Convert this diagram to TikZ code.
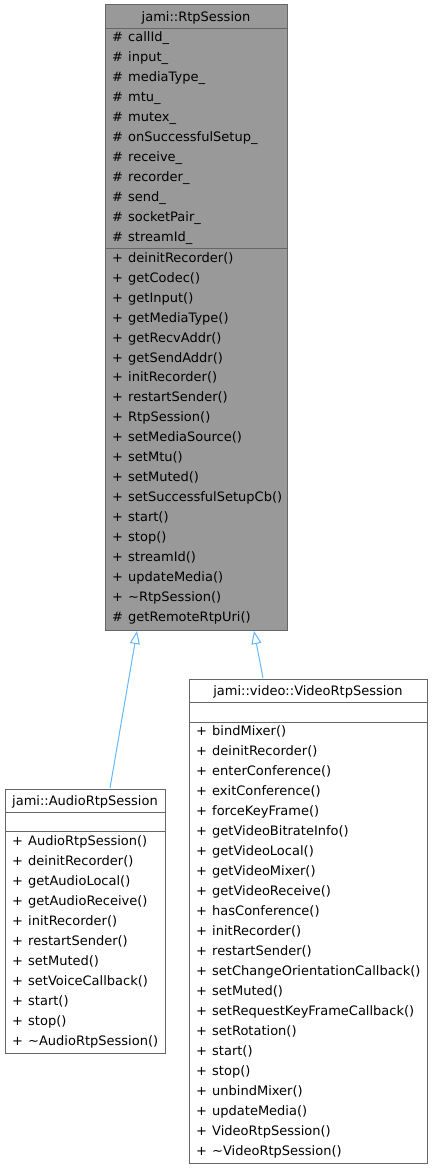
\documentclass[tikz,border=0pt]{standalone}
\usepackage{fontspec}
\setmainfont{DejaVu Sans}
\usetikzlibrary{arrows.meta}
\definecolor{boxborder}{HTML}{666666}
\definecolor{boxgray}{HTML}{999999}
\definecolor{inhblue}{HTML}{63B8FF}
\begin{document}
\begin{tikzpicture}[x=1pt,y=-1pt,
  font=\fontsize{13}{15}\selectfont,
  cls/.style={draw=boxborder, line width=1pt, inner sep=0pt, outer sep=0pt, anchor=north west},
  mem/.style={anchor=west, inner sep=0pt, text height=9.5pt, text depth=0pt},
  ttl/.style={anchor=center, inner sep=0pt, text height=9.5pt, text depth=0pt},
  sepline/.style={draw=boxborder, line width=1pt},
  inh/.style={draw=inhblue, line width=1pt, -{Triangle[open, length=13pt, width=10pt, fill=white]}}]
\useasboundingbox (0,0) rectangle (432,1169);

% ---- jami::RtpSession
\node[cls, fill=boxgray, minimum width=182pt, minimum height=625pt] (rtp) at (105,5) {};
\node[ttl] (rtpt) at (196,17) {jami::RtpSession};
\draw[sepline] (105,29) -- (287,29);
\draw[sepline] (105,248) -- (287,248);
\foreach \n [count=\i from 0] in {callId\_, input\_, mediaType\_, mtu\_, mutex\_, onSuccessfulSetup\_, receive\_, recorder\_, send\_, socketPair\_, streamId\_}{
  \node[mem] (ras\i) at (112,{37+20*\i}) {\#};
  \node[mem] (ran\i) at (128,{37+20*\i}) {\n};
}
\foreach \s/\n [count=\i from 0] in {+/deinitRecorder(), +/getCodec(), +/getInput(), +/getMediaType(), +/getRecvAddr(), +/getSendAddr(), +/initRecorder(), +/restartSender(), +/RtpSession(), +/setMediaSource(), +/setMtu(), +/setMuted(), +/setSuccessfulSetupCb(), +/start(), +/stop(), +/streamId(), +/updateMedia(), +/\textasciitilde RtpSession(), \#/getRemoteRtpUri()}{
  \node[mem] (rms\i) at (112,{257.5+19.95*\i}) {\s};
  \node[mem] (rmn\i) at (128,{257.5+19.95*\i}) {\n};
}

% ---- jami::AudioRtpSession
\node[cls, fill=white, minimum width=160pt, minimum height=264pt] (aud) at (5,789) {};
\node[ttl] (audt) at (85,801) {jami::AudioRtpSession};
\draw[sepline] (5,812) -- (165,812);
\draw[sepline] (5,831) -- (165,831);
\foreach \n [count=\i from 0] in {AudioRtpSession(), deinitRecorder(), getAudioLocal(), getAudioReceive(), initRecorder(), restartSender(), setMuted(), setVoiceCallback(), start(), stop(), \textasciitilde AudioRtpSession()}{
  \node[mem] (ams\i) at (12,{841+20*\i}) {+};
  \node[mem] (amn\i) at (28,{841+20*\i}) {\n};
}

% ---- jami::video::VideoRtpSession
\node[cls, fill=white, minimum width=238pt, minimum height=484pt] (vid) at (189,679) {};
\node[ttl] (vidt) at (308,691) {jami::video::VideoRtpSession};
\draw[sepline] (189,702) -- (427,702);
\draw[sepline] (189,722) -- (427,722);
\foreach \n [count=\i from 0] in {bindMixer(), deinitRecorder(), enterConference(), exitConference(), forceKeyFrame(), getVideoBitrateInfo(), getVideoLocal(), getVideoMixer(), getVideoReceive(), hasConference(), initRecorder(), restartSender(), setChangeOrientationCallback(), setMuted(), setRequestKeyFrameCallback(), setRotation(), start(), stop(), unbindMixer(), updateMedia(), VideoRtpSession(), \textasciitilde VideoRtpSession()}{
  \node[mem] (vms\i) at (196,{731+20*\i}) {+};
  \node[mem] (vmn\i) at (212,{731+20*\i}) {\n};
}

% ---- inheritance
\coordinate (audtop) at (110,788);
\coordinate (audtip) at (137,631);
\coordinate (vidtop) at (263,678);
\coordinate (vidtip) at (254,631);
\draw[inh] (audtop) -- (audtip);
\draw[inh] (vidtop) -- (vidtip);
\end{tikzpicture}
\end{document}
